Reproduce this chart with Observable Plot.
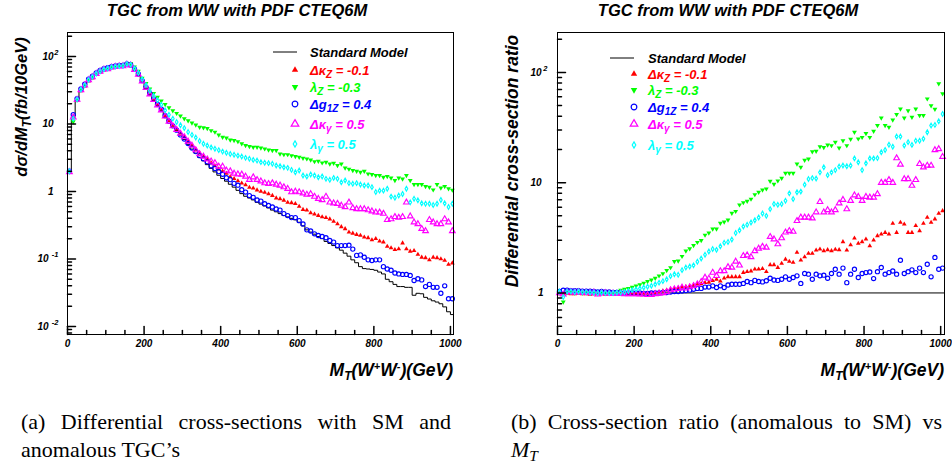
<!DOCTYPE html>
<html>
<head>
<meta charset="utf-8">
<script src="https://cdn.jsdelivr.net/npm/d3@7"></script>
<script src="https://cdn.jsdelivr.net/npm/@observablehq/plot@0.6"></script>
<style>
  html, body { margin: 0; padding: 0; background: #fff; }
  #page { position: relative; width: 952px; height: 469px; overflow: hidden; background: #fff; }
  .panel { position: absolute; top: 0; width: 476px; height: 400px; }
  .caption { position: absolute; font-family: "Liberation Serif", "Times New Roman", serif; font-size: 22px; line-height: 28px; color: #000; }
  .caption .l1 { text-align: justify; text-align-last: justify; white-space: nowrap; }
  .caption sub { font-size: 0.7em; line-height: 0; vertical-align: -0.25em; }
</style>
</head>
<body>
<div id="page">
  <div id="left" class="panel" style="left:0px"></div>
  <div id="right" class="panel" style="left:476px"></div>
  <div class="caption" style="left:21px; top:408px; width:430px;"><div class="l1">(a) Differential cross-sections with SM and</div><div>anomalous TGC’s</div></div>
  <div class="caption" style="left:511px; top:408px; width:431px;"><div class="l1">(b) Cross-section ratio (anomalous to SM) vs</div><div><i>M</i><sub><i>T</i></sub></div></div>
</div>
<script>
// ---------- data ----------
const binCenters = [5,15,25,35,45,55,65,75,85,95,105,115,125,135,145,155,165,175,185,195,
205,215,225,235,245,255,265,275,285,295,305,315,325,335,345,355,365,375,385,395,
405,415,425,435,445,455,465,475,485,495,505,515,525,535,545,555,565,575,585,595,
605,615,625,635,645,655,665,675,685,695,705,715,725,735,745,755,765,775,785,795,
805,815,825,835,845,855,865,875,885,895,905,915,925,935,945,955,965,975,985,995,1005];

// (a) differential cross-sections, fb / 10 GeV
const smLeft = [1.95,13,22.5,31.5,37,44,49,55,60,64,
67,69,71,72.5,73,77,75,65,55,44,
35,28.5,23.5,19.8,16.6,13.3,11.0,9.3,8.0,6.8,
5.9,5.0,4.25,3.7,3.2,2.85,2.5,2.2,1.95,1.74,
1.56,1.42,1.28,1.16,1.04,0.93,0.85,0.8,0.75,0.69,
0.65,0.61,0.57,0.53,0.50,0.47,0.44,0.42,0.40,0.38,
0.35,0.31,0.27,0.25,0.233,0.215,0.2,0.182,0.17,0.158,
0.146,0.135,0.122,0.11,0.097,0.088,0.077,0.072,0.071,0.07,
0.068,0.064,0.06,0.05,0.046,0.042,0.039,0.039,0.038,0.038,
0.029,0.031,0.0305,0.027,0.0255,0.024,0.023,0.0217,0.0195,0.0165,
0.015];
const dkzLeft = [1.91,12.7,22.3,30.9,36.3,43.1,48,53.9,58.8,62.7,
65.7,67.6,69.6,71,71.5,75.5,73.5,63.7,53.9,43,
34.3,28,23,19.4,16.3,13.3,11.2,9.6,8.4,7.3,
6.5,5.5,4.8,4.2,3.7,3.3,3.0,2.65,2.4,2.15,
2.0,1.85,1.65,1.55,1.43,1.33,1.25,1.15,1.12,1.05,
1.0,0.97,0.92,0.87,0.8,0.78,0.74,0.69,0.68,0.66,
0.6,0.54,0.53,0.48,0.46,0.44,0.42,0.41,0.39,0.36,
0.33,0.3,0.28,0.25,0.24,0.23,0.223,0.21,0.206,0.192,
0.2,0.184,0.178,0.153,0.146,0.137,0.141,0.172,0.141,0.13,
0.133,0.117,0.106,0.104,0.097,0.106,0.104,0.1,0.095,0.083,
0.087];
const lzLeft = [1.95,10.8,22.7,32,37,44.5,49,55.5,60,64,
66.5,69,71,73,74.5,79,79,70,60.5,48,
40,33,28.5,25,22,19.5,17.5,15.8,14.4,13.2,
12,11.2,10.4,9.7,9.0,8.8,8.6,8.0,7.6,6.9,
6.4,6.2,5.8,5.7,5.5,5.1,4.8,4.64,4.54,4.54,
4.43,4.29,4.14,4.05,4.05,3.61,3.53,3.53,3.41,3.3,
3.23,3.12,3.05,2.94,2.78,2.81,2.66,2.72,2.57,2.63,
2.43,2.57,2.24,2.15,2.05,2.0,1.93,2.0,1.83,1.79,
1.73,1.73,1.63,1.67,1.59,1.46,1.59,1.54,1.73,1.46,
1.27,1.27,1.27,1.19,1.16,1.06,1.27,1.13,1.19,1.1,
1.05];
const dg1zLeft = [2.0,13.8,23.8,33,38.9,46.2,51,57.2,62.4,66,
68.3,71,72.4,74,73.7,77.8,75,65,55,44,
35,28.5,23.3,19.6,16.6,13.3,11,9.4,8.1,6.9,
6.0,5.15,4.4,3.9,3.4,3.05,2.75,2.4,2.2,1.97,
1.8,1.6,1.5,1.32,1.24,1.06,0.98,0.87,0.82,0.75,
0.72,0.66,0.62,0.59,0.55,0.53,0.47,0.44,0.41,0.41,
0.37,0.33,0.27,0.26,0.236,0.223,0.216,0.206,0.188,0.178,
0.158,0.158,0.158,0.16,0.14,0.113,0.115,0.106,0.097,0.095,
0.097,0.097,0.077,0.071,0.068,0.062,0.06,0.059,0.059,0.057,
0.048,0.051,0.049,0.039,0.042,0.038,0.038,0.031,0.04,0.0257,
0.0257];
const dkgLeft = [1.95,12.6,23,32,37.4,45,49.5,55.5,60,64.6,
65,69,71,71.8,72.3,76.2,74.2,63.7,54,43,
34.3,27.6,22.8,19,16,13,10.9,9.3,8.2,7.2,
6.4,5.5,4.8,4.1,3.6,3.3,3.0,2.8,2.65,2.35,
2.35,2.05,2.0,1.85,1.8,1.79,1.67,1.49,1.63,1.49,
1.42,1.33,1.3,1.33,1.27,1.23,1.16,1.1,0.98,1.0,
0.98,0.94,0.9,0.92,0.84,0.78,0.75,0.84,0.69,0.67,
0.66,0.62,0.59,0.69,0.57,0.55,0.55,0.55,0.53,0.51,
0.49,0.49,0.47,0.38,0.39,0.42,0.41,0.42,0.69,0.43,
0.35,0.33,0.28,0.26,0.38,0.35,0.33,0.33,0.39,0.35,
0.26];
const lgLeft = [2.0,12,23.2,32.5,37.7,45.3,50,56,60.6,64.6,
67,69.7,71,72.5,73,77.8,75.8,66.3,57.2,46,
37.5,31,26,22.5,19.3,16,13.7,12,10.7,9.6,
8.7,7.6,6.9,6.3,5.6,5.1,4.8,4.5,4.3,4.1,
3.9,3.75,3.6,3.5,3.4,3.3,3.15,3.05,2.94,2.88,
2.72,2.66,2.63,2.57,2.43,2.37,2.29,2.24,2.09,1.93,
2.05,1.73,1.67,1.79,1.73,1.63,1.67,1.54,1.49,1.59,
1.54,1.37,1.46,1.33,1.3,1.33,1.27,1.23,1.23,1.16,
0.98,1.03,1.03,1.1,0.84,0.81,0.87,0.92,1.1,0.69,
0.78,0.74,0.67,0.66,0.66,0.63,0.66,0.75,0.67,0.59,
0.66];

// (b) cross-section ratio, anomalous / SM
const smReference = [1];
const dkzRatio = [0.98,0.98,0.99,0.98,0.98,0.99,0.98,0.98,0.97,0.98,
0.98,0.98,0.97,0.98,0.98,0.98,0.98,0.97,0.98,0.98,
0.98,0.98,0.99,0.99,0.99,1.0,1.02,1.04,1.06,1.08,
1.1,1.11,1.13,1.14,1.15,1.17,1.2,1.21,1.24,1.25,
1.29,1.33,1.28,1.36,1.4,1.4,1.4,1.4,1.53,1.56,
1.58,1.64,1.64,1.66,1.56,1.8,1.8,1.7,1.85,2.02,
1.93,1.89,2.33,1.98,2.12,2.28,2.28,2.44,2.49,2.41,
2.46,2.41,2.48,2.46,2.91,2.44,2.73,3.14,2.81,2.91,
3.07,2.67,3.01,3.3,3.41,3.53,3.41,4.27,3.53,4.36,
4.2,3.53,3.53,4.07,3.66,4.27,4.84,4.36,4.68,5.26,
5.56];
const lzRatio = [1.0,0.83,1.01,1.02,1.0,1.01,1.0,1.01,1.0,1.0,
0.99,1.0,1.0,1.01,1.02,1.03,1.06,1.08,1.1,1.13,
1.16,1.19,1.23,1.27,1.31,1.36,1.43,1.5,1.6,1.7,
1.93,1.95,2.15,2.4,2.52,2.7,2.88,3.0,3.35,3.5,
3.8,3.8,4.3,4.4,4.6,5.3,5.5,6.3,6.6,6.8,
7.1,7.8,8.2,8.6,8.8,10.3,9.7,10.4,11.0,12.2,
12.2,12.2,14.8,13.8,16,16.4,19.1,19.3,21.2,20.9,
22,21.7,23.3,20.7,24,21.7,24.8,28.7,25,25.8,
28,25.8,29.3,33,38.7,33,31.8,37.1,41.5,46.7,
38.7,45,39.3,46.7,40.7,40.7,57.6,50,46.4,79,
64];
const dg1zRatio = [1.03,1.06,1.06,1.05,1.05,1.05,1.04,1.04,1.04,1.03,
1.02,1.03,1.02,1.02,1.01,1.01,1.0,1.0,1.0,1.0,
1.0,1.0,0.99,0.99,1.0,1.0,1.0,1.01,1.01,1.02,
1.03,1.03,1.04,1.05,1.06,1.08,1.1,1.1,1.13,1.13,
1.16,1.12,1.16,1.12,1.18,1.2,1.2,1.2,1.22,1.27,
1.24,1.3,1.27,1.26,1.29,1.36,1.31,1.3,1.33,1.4,
1.33,1.38,1.43,1.22,1.5,1.48,1.33,1.48,1.43,1.45,
1.36,1.5,1.64,1.48,1.68,1.24,1.48,1.64,1.38,1.5,
1.53,1.55,1.35,1.56,1.7,1.48,1.53,1.58,1.48,1.98,
1.5,1.56,1.62,1.53,1.68,1.53,1.82,1.4,2.1,1.64,
1.68];
const dkgRatio = [1.0,0.97,1.02,1.02,1.01,1.02,1.01,1.01,1.0,1.01,
0.97,1.0,1.0,0.99,0.99,0.99,0.99,0.98,0.98,0.98,
0.98,0.97,0.97,0.96,0.96,0.98,0.99,1.0,1.02,1.06,
1.08,1.09,1.12,1.1,1.13,1.16,1.2,1.26,1.38,1.35,
1.53,1.43,1.58,1.58,1.72,1.7,1.93,1.78,2.17,2.2,
2.12,2.4,2.53,2.63,2.58,3.23,3.07,2.77,3.14,3.54,
3.66,3.6,4.5,4.84,4.84,4.84,4.76,5.4,6.7,5.4,
5.65,5.4,5.65,6.5,7.0,5.76,6.86,7.7,7.46,6.86,
7.46,7.35,7.35,7.9,10,10,10.6,10,16.7,14.6,
10.8,10.8,9.4,10.6,14.8,13.8,14.3,14.3,19.8,20.2,
17.2];
const lgRatio = [1.03,0.92,1.03,1.03,1.02,1.03,1.02,1.02,1.01,1.01,
1.0,1.01,1.0,1.0,1.0,1.01,1.01,1.02,1.04,1.06,
1.08,1.1,1.12,1.14,1.16,1.2,1.24,1.28,1.33,1.42,
1.48,1.46,1.61,1.7,1.74,1.78,1.92,2.05,2.22,2.38,
2.5,2.46,2.65,2.85,2.9,3.05,3.5,3.7,4.0,4.15,
4.36,4.57,4.84,5.26,5.0,5.76,6.4,6.3,6.4,6.86,
8.0,7.1,8.2,8.3,9.6,10.8,11,10.9,12.4,13.8,
11.7,12.4,13,14,14.3,14.1,14.3,16.6,15.3,13,
15,16.6,16.6,16.7,18.9,19.8,22.1,21.2,26.2,26.2,
21.7,23.3,22,24,24,25,28.7,33,33.4,36,
42];

// axis ticks and labels
const xMajorTicks = [0,200,400,600,800,1000];
const xMinorTicks = [50,100,150,250,300,350,450,500,550,650,700,750,850,900,950];
const yMajorLeft = [0.01,0.1,1,10,100];
const yMinorLeft = [0.008,0.009,0.02,0.03,0.04,0.05,0.06,0.07,0.08,0.09,0.2,0.3,0.4,0.5,0.6,0.7,0.8,0.9,2,3,4,5,6,7,8,9,20,30,40,50,60,70,80,90,200];
const yMajorRight = [1,10,100];
const yMinorRight = [0.5,0.6,0.7,0.8,0.9,2,3,4,5,6,7,8,9,20,30,40,50,60,70,80,90,200];
// tick label pieces: mantissa text and superscript exponent
const yLabelBase = {0.01: "10", 0.1: "10", 1: "1", 10: "10", 100: "10"};
const yLabelExp = {0.01: "-2", 0.1: "-1", 100: "2"};

// ---------- styles ----------
const sans = "'Liberation Sans', Arial, Helvetica, sans-serif";
const tickShape = {draw(ctx, l) { ctx.moveTo(0, 0); ctx.lineTo(0, -l); }};
const triangleDown = {draw(ctx, size) {
  const y = -Math.sqrt(size / (Math.sqrt(3) * 3));
  ctx.moveTo(0, -y * 2); ctx.lineTo(-Math.sqrt(3) * y, y); ctx.lineTo(Math.sqrt(3) * y, y); ctx.closePath();
}};
const seriesStyle = [
  {key: "dkz", color: "#ff0000", symbol: d3.symbolTriangle, filled: true, r: 1.75, label: ["\u0394\u03BA", "Z", " = -0.1"]},
  {key: "lz", color: "#00ff00", symbol: triangleDown, filled: true, r: 1.8, label: ["\u03BB", "Z", " = -0.3"]},
  {key: "dg1z", color: "#0000ff", symbol: d3.symbolCircle, filled: false, r: 2.1, label: ["\u0394g", "1Z", " = 0.4"]},
  {key: "dkg", color: "#ff00ff", symbol: d3.symbolTriangle, filled: false, r: 2.1, label: ["\u0394\u03BA", "\u03B3", " = 0.5"]},
  {key: "lg", color: "#00ffff", symbol: d3.symbolDiamond, filled: false, r: 1.4, label: ["\u03BB", "\u03B3", " = 0.5"]}
];
const leftValues = {dkz: dkzLeft, lz: lzLeft, dg1z: dg1zLeft, dkg: dkgLeft, lg: lgLeft};
const rightValues = {dkz: dkzRatio, lz: lzRatio, dg1z: dg1zRatio, dkg: dkgRatio, lg: lgRatio};

function seriesMarks(values) {
  return seriesStyle.map(s => Plot.dot(binCenters.map((c, i) => ({x: c, y: values[s.key][i]})), {
    x: "x", y: "y", symbol: s.symbol, r: s.r,
    fill: s.filled ? s.color : "none",
    stroke: s.filled ? "none" : s.color,
    strokeWidth: s.filled ? 0 : 1.15
  }));
}

// y tick labels: groups with the same right edge of the mantissa
function yLabelMarks(yMajor, groups, expDx) {
  const marks = groups.map(gr => Plot.axisY(yMajor.filter(gr.test), {
    tickSize: 0, tickPadding: gr.pad, fontSize: 10, label: null, tickFormat: d => yLabelBase[d]
  }));
  const expTicks = yMajor.filter(d => yLabelExp[d] !== undefined);
  marks.push(Plot.text(expTicks, {
    y: d => d, frameAnchor: "left", text: d => yLabelExp[d], textAnchor: "end",
    dx: expDx, dy: -4, fontSize: 7.5
  }));
  return marks;
}

function axisMarks(yMajor, yMinor) {
  return [
    Plot.axisX(xMajorTicks, {tickSize: 0, tickPadding: 5, fontSize: 10, label: null, tickFormat: d => String(d)}),
    Plot.vector(xMajorTicks, {x: d => d, frameAnchor: "bottom", length: 8, anchor: "start", shape: tickShape, stroke: "#000"}),
    Plot.vector(xMinorTicks, {x: d => d, frameAnchor: "bottom", length: 4, anchor: "start", shape: tickShape, stroke: "#000"}),
    Plot.vector(yMajor, {y: d => d, frameAnchor: "left", rotate: 90, length: 8, anchor: "start", shape: tickShape, stroke: "#000"}),
    Plot.vector(yMinor, {y: d => d, frameAnchor: "left", rotate: 90, length: 4, anchor: "start", shape: tickShape, stroke: "#000"})
  ];
}

function addText(g, x, y, size, parts, anchor, transform) {
  const t = g.append("text").attr("font-size", size).attr("text-anchor", anchor || "start").attr("fill", "#000");
  if (transform) t.attr("transform", transform); else t.attr("x", x).attr("y", y);
  parts.forEach(p => {
    const s = t.append("tspan").text(p.t);
    if (p.dy) s.attr("dy", p.dy);
    if (p.size) s.attr("font-size", p.size);
  });
  return t;
}

function decorate(svg, cfg) {
  const g = d3.select(svg).append("g");
  addText(g, cfg.titleX, 16, 16.5, [{t: "TGC from WW with PDF CTEQ6M"}], "middle");
  addText(g, 0, 0, cfg.yLabelSize, cfg.yLabelParts, "middle", `translate(${cfg.yLabelX},${cfg.yLabelY}) rotate(-90)`);
  addText(g, cfg.xLabelX, 376, 17.5, [
    {t: "M"}, {t: "T", dy: 4, size: 12}, {t: "(W", dy: -4}, {t: "+", dy: -6, size: 11},
    {t: "W", dy: 6}, {t: "-", dy: -6, size: 11}, {t: ")(GeV)", dy: 6}
  ], "end");
  // legend
  const L = cfg.legend;
  g.append("line").attr("x1", L.lineX1).attr("x2", L.lineX2).attr("y1", L.rows[0]).attr("y2", L.rows[0])
    .attr("stroke", "#000").attr("stroke-width", 1);
  addText(g, L.textX, L.rows[0] + 4.7, 13, [{t: "Standard Model"}]);
  seriesStyle.forEach((s, k) => {
    const y = L.rows[k + 1];
    g.append("path").attr("d", d3.symbol(s.symbol, Math.PI * (s.r * 1.35) ** 2)())
      .attr("transform", `translate(${L.markX},${y})`)
      .attr("fill", s.filled ? s.color : "none")
      .attr("stroke", s.filled ? "none" : s.color).attr("stroke-width", 1.2);
    const t = addText(g, L.textX, y + 4.7, 13, [{t: s.label[0]}, {t: s.label[1], dy: 3.5, size: 10}, {t: s.label[2], dy: -3.5}]);
    t.attr("fill", s.color);
  });
}

// ---------- left panel ----------
const smSteps = binCenters.map((c, i) => ({x: c - 5, y: smLeft[i]}));
smSteps.push({x: binCenters[binCenters.length - 1] + 5, y: smLeft[smLeft.length - 1]});

const leftPlot = Plot.plot({
  width: 476, height: 400,
  marginLeft: 67, marginRight: 23, marginTop: 32, marginBottom: 66,
  style: {fontFamily: sans, fontStyle: "italic", fontWeight: "bold", background: "#fff", overflow: "visible"},
  x: {domain: [0, 1008]},
  y: {type: "log", domain: [0.0076, 227]},
  marks: [
    Plot.line(smSteps, {x: "x", y: "y", curve: "step-after", stroke: "#000", strokeWidth: 1, clip: true}),
    ...seriesMarks(leftValues),
    Plot.frame({stroke: "#000", strokeWidth: 1}),
    ...axisMarks(yMajorLeft, yMinorLeft),
    ...yLabelMarks(yMajorLeft, [{test: d => d >= 1, pad: 14}, {test: d => d < 1, pad: 19}], -9)
  ]
});
decorate(leftPlot, {
  titleX: 237, yLabelX: 27, yLabelY: 107, yLabelSize: 16.5,
  yLabelParts: [{t: "d\u03C3/dM"}, {t: "T", dy: 4, size: 12}, {t: "(fb/10GeV)", dy: -4}],
  xLabelX: 453,
  legend: {lineX1: 273, lineX2: 297, markX: 295, textX: 310, rows: [52, 70, 87, 104, 124, 144]}
});
document.getElementById("left").appendChild(leftPlot);

// ---------- right panel ----------
const rightPlot = Plot.plot({
  width: 476, height: 400,
  marginLeft: 81, marginRight: 8, marginTop: 32, marginBottom: 66,
  style: {fontFamily: sans, fontStyle: "italic", fontWeight: "bold", background: "#fff", overflow: "visible"},
  x: {domain: [0, 1010]},
  y: {type: "log", domain: [0.42, 230]},
  marks: [
    Plot.ruleY(smReference, {stroke: "#000", strokeWidth: 1}),
    ...seriesMarks(rightValues),
    Plot.frame({stroke: "#000", strokeWidth: 1}),
    ...axisMarks(yMajorRight, yMinorRight),
    ...yLabelMarks(yMajorRight, [{test: d => d === 1, pad: 14}, {test: d => d > 1, pad: 16}], -10)
  ]
});
decorate(rightPlot, {
  titleX: 252, yLabelX: 42, yLabelY: 161, yLabelSize: 17.5,
  yLabelParts: [{t: "Differential cross-section ratio"}],
  xLabelX: 468,
  legend: {lineX1: 134, lineX2: 158, markX: 158, textX: 172, rows: [58, 74, 90, 107, 124, 145]}
});
document.getElementById("right").appendChild(rightPlot);
</script>
</body>
</html>
